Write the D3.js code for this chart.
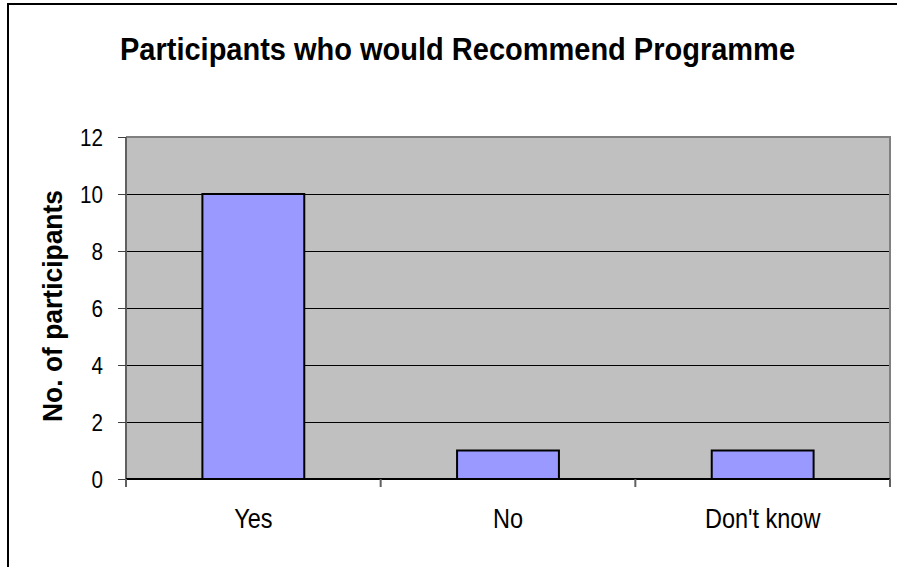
<!DOCTYPE html>
<html>
<head>
<meta charset="utf-8">
<script src="https://d3js.org/d3.v7.min.js"></script>
<style>
  html, body { margin: 0; padding: 0; background: #fff; }
  svg { display: block; font-family: Arial, "Liberation Sans", sans-serif; }
</style>
</head>
<body>
<svg id="chart" width="897" height="567"></svg>
<script>
const categories = ["Yes", "No", "Don't know"];
const counts = [10, 1, 1];
const yTicks = [0, 2, 4, 6, 8, 10, 12];
const chartTitle = "Participants who would Recommend Programme";
const yTitle = "No. of participants";

const svg = d3.select('#chart');

// plot area
const plot = { left: 126, right: 890, top: 137, bottom: 479 };

const x = d3.scaleBand()
  .domain(categories)
  .range([plot.left, plot.right])
  .paddingInner(0)
  .paddingOuter(0);

const y = d3.scaleLinear()
  .domain([0, 12])
  .range([plot.bottom, plot.top]);

// the original font is a bit narrow; squeeze glyphs horizontally
function condense(sel, factor) {
  sel.each(function() {
    const w = this.getComputedTextLength();
    d3.select(this)
      .attr('textLength', w * factor)
      .attr('lengthAdjust', 'spacingAndGlyphs');
  });
}

// outer frame (only left and top edges show)
svg.append('path')
  .attr('d', 'M8,567 L8,4 L897,4')
  .attr('fill', 'none')
  .attr('stroke', '#000')
  .attr('stroke-width', 2);

// grey plot background
svg.append('rect')
  .attr('x', plot.left)
  .attr('y', plot.top)
  .attr('width', plot.right - plot.left)
  .attr('height', plot.bottom - plot.top)
  .attr('fill', '#c0c0c0');

// gridlines
svg.append('g')
  .selectAll('line')
  .data(yTicks.filter(t => t > 0 && t < 12))
  .join('line')
  .attr('x1', plot.left)
  .attr('x2', plot.right)
  .attr('y1', d => Math.round(y(d)) + 0.5)
  .attr('y2', d => Math.round(y(d)) + 0.5)
  .attr('stroke', '#000')
  .attr('stroke-width', 1);

// plot border (top/right)
svg.append('path')
  .attr('d', `M${plot.left},${plot.top} L${plot.right},${plot.top} L${plot.right},${plot.bottom}`)
  .attr('fill', 'none')
  .attr('stroke', '#808080')
  .attr('stroke-width', 2);

// bars
const barW = x.bandwidth() * 0.4;
svg.append('g')
  .selectAll('rect')
  .data(categories.map((c, i) => ({ c, v: counts[i] })))
  .join('rect')
  .attr('x', d => x(d.c) + (x.bandwidth() - barW) / 2)
  .attr('y', d => y(d.v))
  .attr('width', barW)
  .attr('height', d => y(0) - y(d.v))
  .attr('fill', '#9999ff')
  .attr('stroke', '#000')
  .attr('stroke-width', 2);

// y axis
const yAxis = svg.append('g')
  .attr('transform', `translate(${plot.left},0)`)
  .call(d3.axisLeft(y).tickValues(yTicks).tickSize(8).tickPadding(15));
yAxis.select('.domain')
  .attr('d', `M0,${plot.top}V${plot.bottom + 8}`)
  .attr('stroke', '#606060')
  .attr('stroke-width', 2);
yAxis.selectAll('.tick line').attr('stroke', '#404040');
yAxis.selectAll('.tick text')
  .attr('font-size', 24)
  .attr('font-family', 'Arial, "Liberation Sans", sans-serif')
  .attr('fill', '#000')
  .attr('dy', '0.36em')
  .call(condense, 0.86);

// x axis
const xAxis = svg.append('g')
  .attr('transform', `translate(0,${plot.bottom})`);
xAxis.append('line')
  .attr('x1', plot.left)
  .attr('x2', plot.right)
  .attr('stroke', '#000')
  .attr('stroke-width', 2);
xAxis.selectAll('line.tk')
  .data(categories.concat(['end']))
  .join('line')
  .attr('class', 'tk')
  .attr('x1', (d, i) => i < categories.length ? x(d) : plot.right)
  .attr('x2', (d, i) => i < categories.length ? x(d) : plot.right)
  .attr('y1', 0)
  .attr('y2', 8)
  .attr('stroke', '#606060')
  .attr('stroke-width', 2);
xAxis.selectAll('text')
  .data(categories)
  .join('text')
  .attr('x', d => x(d) + x.bandwidth() / 2)
  .attr('y', 49)
  .attr('text-anchor', 'middle')
  .attr('font-size', 27)
  .attr('fill', '#000')
  .text(d => d)
  .call(condense, 0.87);

// title
svg.append('text')
  .attr('x', 120)
  .attr('y', 60)
  .attr('font-size', 31)
  .attr('font-weight', 'bold')
  .attr('textLength', 675)
  .attr('lengthAdjust', 'spacingAndGlyphs')
  .text(chartTitle);

// y axis title
svg.append('text')
  .attr('transform', 'translate(62,422) rotate(-90)')
  .attr('font-size', 27)
  .attr('font-weight', 'bold')
  .attr('textLength', 232)
  .attr('lengthAdjust', 'spacingAndGlyphs')
  .text(yTitle);
</script>
</body>
</html>
